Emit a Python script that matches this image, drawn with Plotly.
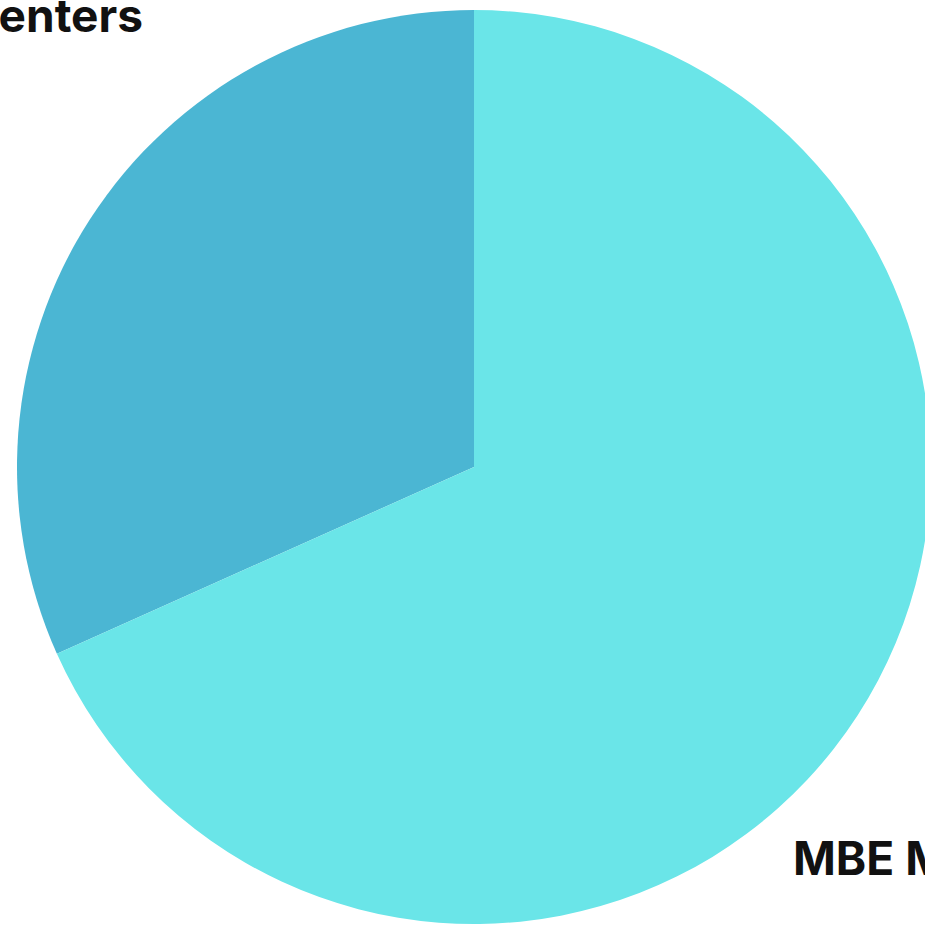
import plotly.graph_objects as go

# Data
labels = ["Data Centers", "MBE Members"]
values = [31.7, 68.3]
colors = ["#4BB6D3", "#6AE5E8"]

W, H = 940, 928

# first slice ends at 12 o'clock, drawn clockwise
start_rot = 360 * (1 - values[0] / sum(values))

fig = go.Figure(
    go.Pie(
        labels=labels,
        values=values,
        sort=False,
        direction="clockwise",
        rotation=start_rot,
        marker=dict(colors=colors, line=dict(width=0)),
        textinfo="none",
        hoverinfo="label+percent",
        showlegend=False,
        domain=dict(x=[17 / W, 931 / W], y=[4 / H, 918 / H]),
    )
)

label_font = dict(family="Inter, Liberation Sans, Arial", size=46, color="#111111", weight=700)

# Outside labels (placed as in the reference)
fig.add_annotation(
    text=labels[0], xref="paper", yref="paper",
    x=145 / W, y=1 - 15 / H, xanchor="right", yanchor="middle",
    showarrow=False, font=label_font,
)
fig.add_annotation(
    text=labels[1], xref="paper", yref="paper",
    x=791 / W, y=1 - 858 / H, xanchor="left", yanchor="middle",
    showarrow=False, font=label_font,
)

fig.update_layout(
    width=W, height=H,
    margin=dict(l=0, r=0, t=0, b=0),
    paper_bgcolor="white",
    plot_bgcolor="white",
)

fig.write_html(
    "out.html",
    config={"displayModeBar": False},
    post_script="document.body.style.margin='0';document.body.style.overflow='hidden';",
)
